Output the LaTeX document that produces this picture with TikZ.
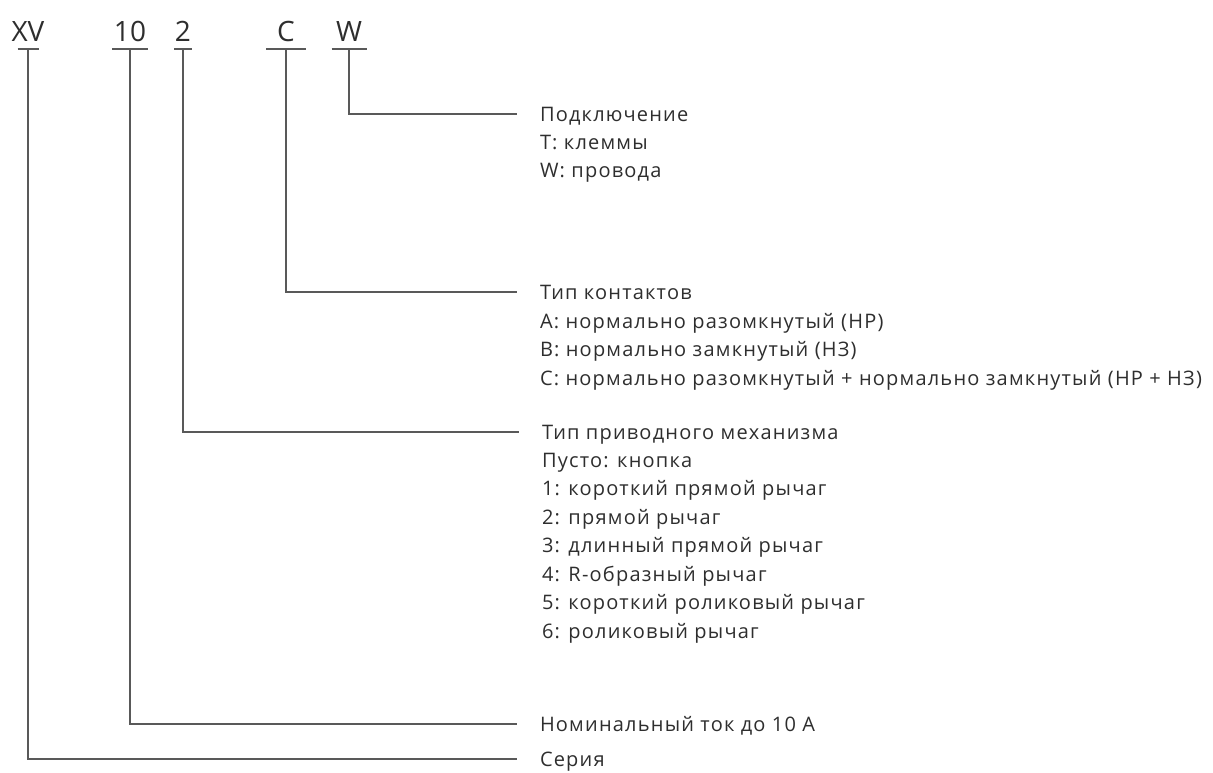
\documentclass[tikz,border=0pt]{standalone}
\usepackage{fontspec}
\setmainfont{Open Sans}[LetterSpace=6]
\newfontfamily\codefont{Open Sans}
\usetikzlibrary{positioning}
\definecolor{inkgray}{HTML}{2E2E2E}
\definecolor{linegray}{HTML}{595959}
\tikzset{
  code/.style={anchor=south, inner xsep=0pt, inner ysep=7pt, text depth=0pt,
    font=\codefont\fontsize{28}{28}\selectfont, text=inkgray},
  desc/.style={anchor=west, inner sep=0pt, outer xsep=23pt, text height=14.3pt, text depth=0pt,
    font=\fontsize{20}{28.5}\selectfont, text=inkgray},
  opts/.style={anchor=north west, inner sep=0pt, outer xsep=23pt, align=left,
    execute at begin node={\rule{0pt}{15pt}},
    font=\fontsize{20}{28.5}\selectfont, text=inkgray},
  bar/.style={draw=linegray, line width=1.4pt},
  link/.style={draw=linegray, line width=1.1pt},
}

\begin{document}
\begin{tikzpicture}[x=1pt, y=-1pt]
  \useasboundingbox (0,0) rectangle (1213,773);

  % code letters
  \node[code] (c-series)   at (28,49)  {XV};
  \node[code] (c-current)  at (130,49) {10};
  \node[code] (c-actuator) at (183,49) {2};
  \node[code] (c-contacts) at (286,49) {C};
  \node[code] (c-wiring)   at (349,49) {W};

  \draw[bar] ([xshift=-10.5pt]c-series.south)   -- ([xshift=10.5pt]c-series.south);
  \draw[bar] ([xshift=-18pt]c-current.south)    -- ([xshift=18pt]c-current.south);
  \draw[bar] ([xshift=-9pt]c-actuator.south)    -- ([xshift=9pt]c-actuator.south);
  \draw[bar] ([xshift=-20pt]c-contacts.south)   -- ([xshift=20pt]c-contacts.south);
  \draw[bar] ([xshift=-17.5pt]c-wiring.south)   -- ([xshift=17.5pt]c-wiring.south);

  % descriptions
  \node[desc] (d-wiring) at (517,114) {Подключение};
  \node[opts] (o-wiring) at ([yshift=-13.5pt]d-wiring.south west) {T: клеммы\\W: провода};

  \node[desc] (d-contacts) at (517,292) {Тип контактов};
  \node[opts] (o-contacts) at ([yshift=-13.5pt]d-contacts.south west)
    {A: нормально разомкнутый (НР)\\B: нормально замкнутый (НЗ)\\C: нормально разомкнутый + нормально замкнутый (НР + НЗ)};

  \node[desc] (d-actuator) at (519,432) {Тип приводного механизма};
  \node[opts] (o-actuator) at ([yshift=-13.5pt]d-actuator.south west)
    {Пусто: кнопка\\1: короткий прямой рычаг\\2: прямой рычаг\\3: длинный прямой рычаг\\4: R-образный рычаг\\5: короткий роликовый рычаг\\6: роликовый рычаг};

  \node[desc] (d-current) at (517,724) {Номинальный ток до 10 A};
  \node[desc] (d-series)  at (517,759) {Серия};

  % connectors
  \draw[link] (c-wiring.south)   |- (d-wiring.west);
  \draw[link] (c-contacts.south) |- (d-contacts.west);
  \draw[link] (c-actuator.south) |- (d-actuator.west);
  \draw[link] (c-current.south)  |- (d-current.west);
  \draw[link] (c-series.south)   |- (d-series.west);
\end{tikzpicture}
\end{document}
